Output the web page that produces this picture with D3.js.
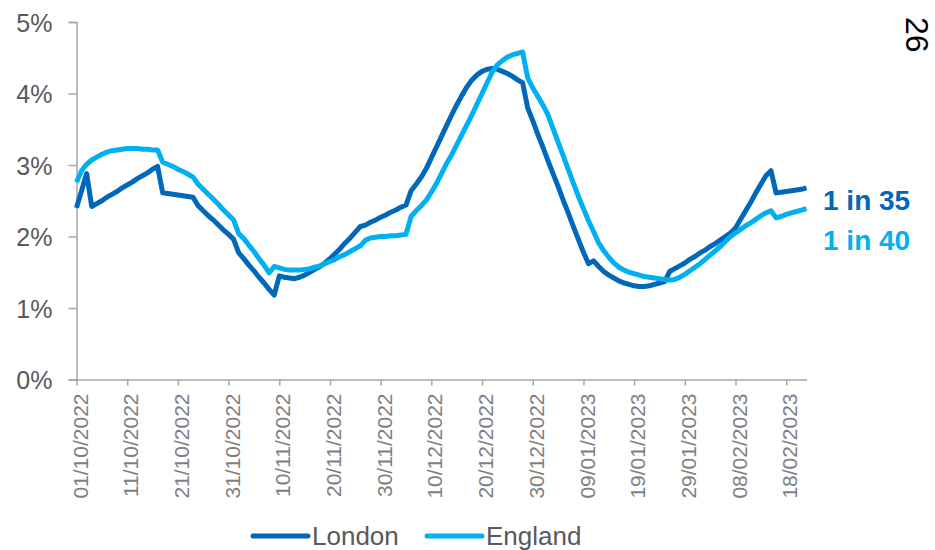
<!DOCTYPE html>
<html>
<head>
<meta charset="utf-8">
<title>London vs England positivity</title>
<style>
  html, body { margin: 0; padding: 0; background: #fff; }
  svg text { font-family: "Liberation Sans", Arial, sans-serif; }
</style>
</head>
<body>
<svg id="chart" width="935" height="550"></svg>
<script src="https://cdn.jsdelivr.net/npm/d3@7"></script>
<script>
// daily values (%) starting 01/10/2022
var startDate = "01/10/2022";
var endDate = "22/02/2023";

var london = [
  2.40, 2.64, 2.88, 2.42, 2.46, 2.50, 2.55, 2.59, 2.63, 2.68,
  2.72, 2.76, 2.81, 2.85, 2.89, 2.94, 2.98, 2.61, 2.60, 2.59,
  2.58, 2.57, 2.56, 2.55, 2.43, 2.36, 2.29, 2.23, 2.16, 2.09,
  2.03, 1.96, 1.77, 1.69, 1.60, 1.52, 1.43, 1.35, 1.26, 1.18,
  1.45, 1.43, 1.42, 1.41, 1.43, 1.46, 1.50, 1.54, 1.58, 1.63,
  1.69, 1.76, 1.83, 1.91, 1.98, 2.06, 2.14, 2.16, 2.20, 2.23,
  2.27, 2.30, 2.34, 2.37, 2.41, 2.44, 2.64, 2.73, 2.83, 2.95,
  3.10, 3.25, 3.40, 3.55, 3.70, 3.84, 3.97, 4.09, 4.19, 4.26,
  4.31, 4.34, 4.35, 4.34, 4.31, 4.28, 4.24, 4.19, 4.15, 3.80,
  3.62, 3.43, 3.25, 3.06, 2.88, 2.70, 2.51, 2.33, 2.14, 1.96,
  1.78, 1.62, 1.66, 1.58, 1.51, 1.46, 1.42, 1.38, 1.35, 1.33,
  1.31, 1.30, 1.30, 1.31, 1.33, 1.35, 1.37, 1.51, 1.55, 1.59,
  1.63, 1.68, 1.72, 1.77, 1.81, 1.86, 1.90, 1.95, 2.00, 2.05,
  2.12, 2.24, 2.36, 2.48, 2.61, 2.73, 2.85, 2.92, 2.61, 2.62,
  2.63, 2.64, 2.65, 2.66, 2.68
];

var england = [
  2.76, 2.92, 3.01, 3.07, 3.11, 3.15, 3.18, 3.20, 3.21, 3.22,
  3.23, 3.23, 3.23, 3.22, 3.22, 3.21, 3.21, 3.04, 3.01, 2.98,
  2.94, 2.91, 2.87, 2.83, 2.73, 2.66, 2.59, 2.52, 2.45, 2.37,
  2.30, 2.23, 2.04, 1.97, 1.88, 1.79, 1.69, 1.60, 1.49, 1.58,
  1.56, 1.54, 1.53, 1.53, 1.53, 1.54, 1.55, 1.57, 1.59, 1.62,
  1.65, 1.68, 1.72, 1.75, 1.79, 1.83, 1.87, 1.95, 1.98, 1.99,
  2.00, 2.00, 2.01, 2.01, 2.02, 2.03, 2.28, 2.36, 2.43, 2.51,
  2.62, 2.74, 2.88, 3.02, 3.14, 3.28, 3.42, 3.56, 3.70, 3.85,
  4.00, 4.15, 4.30, 4.40, 4.46, 4.51, 4.54, 4.56, 4.58, 4.22,
  4.08, 3.96, 3.84, 3.70, 3.51, 3.32, 3.13, 2.94, 2.75, 2.56,
  2.39, 2.22, 2.07, 1.91, 1.80, 1.71, 1.63, 1.57, 1.53, 1.50,
  1.48, 1.46, 1.44, 1.43, 1.42, 1.41, 1.40, 1.39, 1.40, 1.43,
  1.47, 1.52, 1.57, 1.62, 1.68, 1.74, 1.80, 1.86, 1.93, 2.00,
  2.05, 2.10, 2.15, 2.19, 2.24, 2.29, 2.33, 2.36, 2.26, 2.28,
  2.31, 2.33, 2.35, 2.37, 2.39
];

var xTickLabels = ["01/10/2022", "11/10/2022", "21/10/2022", "31/10/2022",
  "10/11/2022", "20/11/2022", "30/11/2022", "10/12/2022", "20/12/2022",
  "30/12/2022", "09/01/2023", "19/01/2023", "29/01/2023", "08/02/2023",
  "18/02/2023"];
var yTicks = [0, 1, 2, 3, 4, 5];

var seriesNames = ["London", "England"];
var endLabels = ["1 in 35", "1 in 40"];
var colors = ["#0067b9", "#00b0f0"];

var parse = d3.utcParse("%d/%m/%Y");
var fmt = d3.utcFormat("%d/%m/%Y");
var t0 = parse(startDate);

var svg = d3.select("#chart");

var x = d3.scaleUtc()
    .domain([t0, parse(endDate)])
    .range([76.5, 806.5]);

var y = d3.scaleLinear()
    .domain([0, 5])
    .range([379.5, 22]);

var axisColor = "#a6a6a6";

// y axis
var yAxis = svg.append("g")
    .attr("transform", "translate(76.5,0)")
    .call(d3.axisLeft(y).tickValues(yTicks).tickSize(8).tickPadding(16)
        .tickFormat(function (d) { return d + "%"; }));
yAxis.select(".domain").attr("stroke", axisColor).attr("stroke-width", 1.5);
yAxis.selectAll(".tick line").attr("stroke", axisColor).attr("stroke-width", 1.5);
yAxis.selectAll(".tick text")
    .attr("fill", "#595959")
    .style("font-size", "25px")
    .attr("dy", "0.36em");

// x axis
var xAxis = svg.append("g")
    .attr("transform", "translate(0,379.5)")
    .call(d3.axisBottom(x).tickValues(xTickLabels.map(parse)).tickSize(6)
        .tickSizeOuter(0).tickFormat(fmt));
xAxis.select(".domain").attr("stroke", axisColor).attr("stroke-width", 1.5);
xAxis.selectAll(".tick line").attr("stroke", axisColor).attr("stroke-width", 1.5);
xAxis.selectAll(".tick text")
    .attr("fill", "#7f7f7f")
    .style("font-size", "21px")
    .attr("text-anchor", "end")
    .attr("transform", "translate(3,14) rotate(-90)")
    .attr("x", 0)
    .attr("y", 0)
    .attr("dy", "0.36em");

// lines
var line = d3.line()
    .x(function (d, i) { return x(d3.utcDay.offset(t0, i)); })
    .y(function (d) { return y(d); });

[london, england].forEach(function (vals, k) {
    svg.append("path")
        .datum(vals)
        .attr("fill", "none")
        .attr("stroke", colors[k])
        .attr("stroke-width", 5)
        .attr("stroke-linejoin", "round")
        .attr("d", line);
});

// end labels
svg.selectAll("text.endlab")
    .data(endLabels)
    .enter().append("text")
    .attr("class", "endlab")
    .attr("x", 823)
    .attr("y", function (d, i) { return 210 + i * 40; })
    .attr("fill", function (d, i) { return colors[i]; })
    .style("font-size", "28px")
    .style("font-weight", "bold")
    .text(function (d) { return d; });

// legend
var leg = svg.append("g");
var legX = [253, 427];
seriesNames.forEach(function (name, i) {
    leg.append("line")
        .attr("x1", legX[i]).attr("x2", legX[i] + 55)
        .attr("y1", 536).attr("y2", 536)
        .attr("stroke", colors[i])
        .attr("stroke-width", 5)
        .attr("stroke-linecap", "round");
    leg.append("text")
        .attr("x", legX[i] + 59)
        .attr("y", 545)
        .attr("fill", "#595959")
        .style("font-size", "26px")
        .text(name);
});

// page number
svg.append("text")
    .attr("transform", "translate(906,17) rotate(90)")
    .attr("fill", "#000")
    .style("font-size", "32px")
    .text("26");
</script>
</body>
</html>
